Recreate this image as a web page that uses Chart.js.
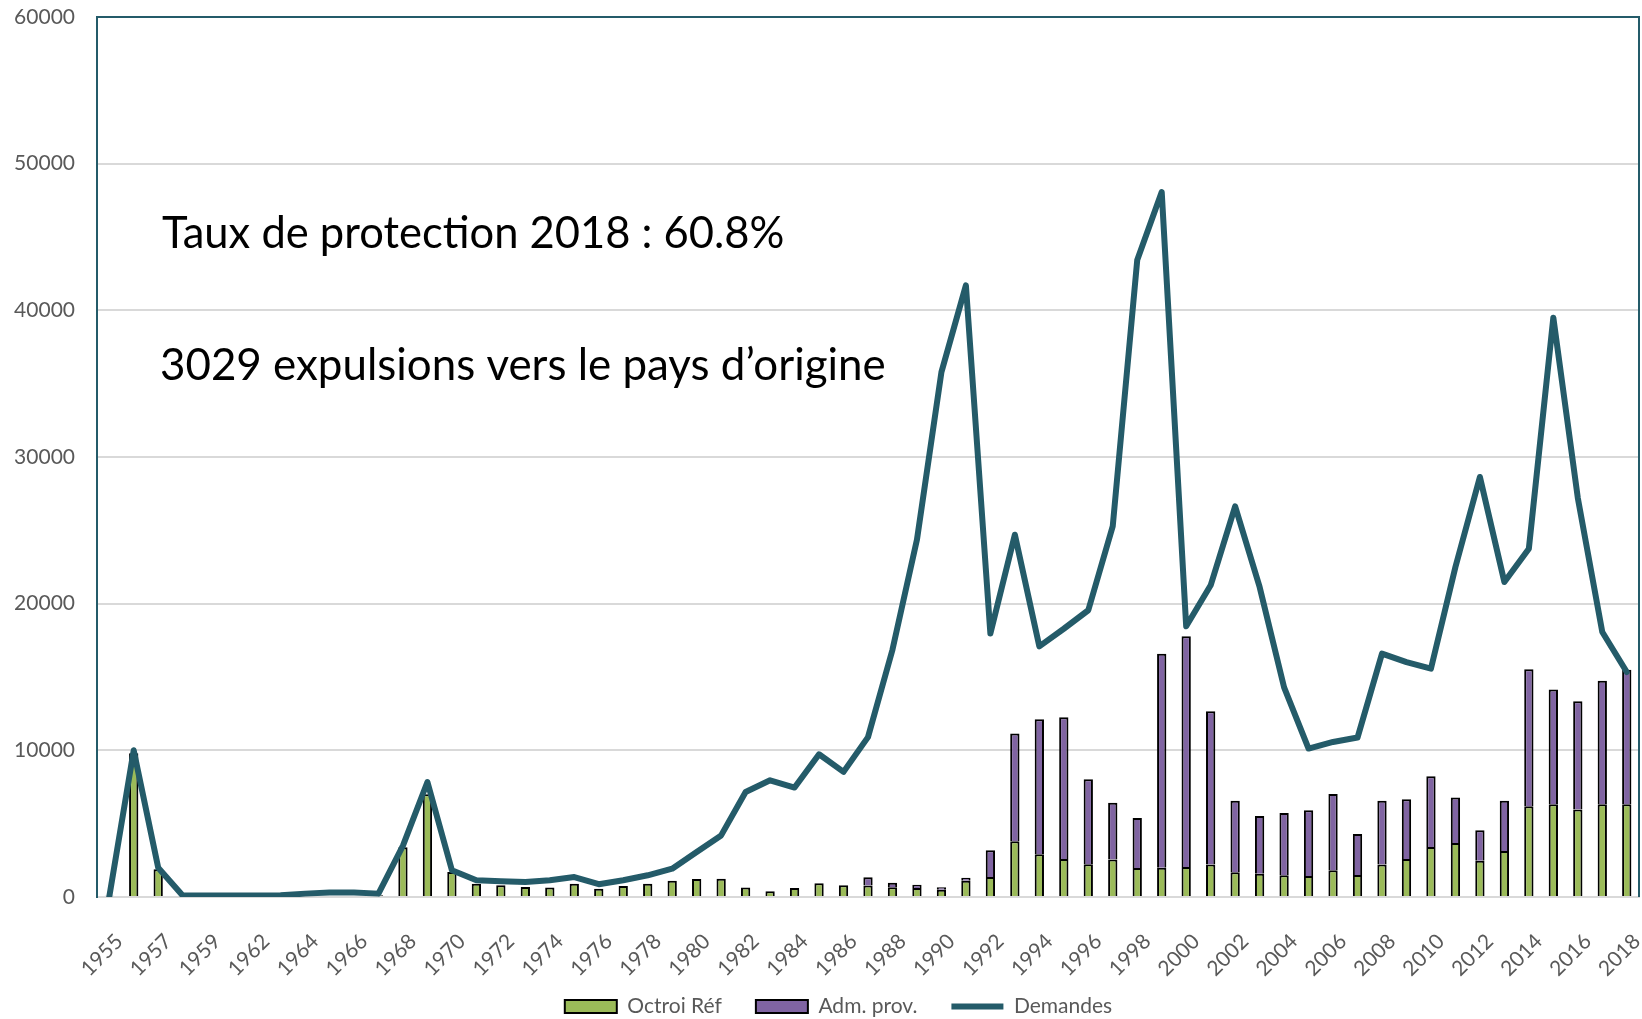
<!DOCTYPE html>
<html lang="fr">
<head>
  <meta charset="UTF-8" />
  <title>Demandes d'asile et protections</title>
  <script src="https://cdn.jsdelivr.net/npm/chart.js"></script>
  <style>
    body {
      margin: 0;
      background: #fff;
    }

    #chartContainer {
      width: 1642px;
      height: 1019px;
    }
  </style>
</head>
<body>

  <div id="chartContainer">
    <canvas id="asileChart"></canvas>
  </div>

  <script>
    const years = ['1955', '1956', '1957', '1958', '1959', '1960',
      '1962', '1963', '1964', '1965', '1966', '1967', '1968', '1969', '1970', '1971',
      '1972', '1973', '1974', '1975', '1976', '1977', '1978', '1979', '1980', '1981',
      '1982', '1983', '1984', '1985', '1986', '1987', '1988', '1989', '1990', '1991',
      '1992', '1993', '1994', '1995', '1996', '1997', '1998', '1999', '2000', '2001',
      '2002', '2003', '2004', '2005', '2006', '2007', '2008', '2009', '2010', '2011',
      '2012', '2013', '2014', '2015', '2016', '2017', '2018'];

    const octroiRef = [80, 9800, 1900, 0, 0, 0,
      0, 0, 0, 0, 0, 120, 3400, 7000, 1700, 900,
      800, 680, 640, 910, 570, 750, 910, 1110, 1230, 1250,
      640, 390, 610, 930, 800, 780, 660, 610, 500, 1100,
      1370, 3800, 2910, 2590, 2230, 2550, 1980, 2000, 2050, 2210,
      1680, 1590, 1480, 1430, 1820, 1500, 2210, 2590, 3410, 3680,
      2480, 3140, 6180, 6320, 5960, 6320, 6320];

    const admProv = [0, 0, 0, 0, 0, 0,
      0, 0, 0, 0, 0, 0, 0, 0, 0, 0,
      0, 0, 0, 0, 0, 0, 0, 0, 0, 0,
      0, 0, 0, 0, 0, 560, 320, 230, 160, 210,
      1810, 7340, 9210, 9660, 5790, 3880, 3410, 14590, 15720, 10450,
      4890, 3930, 4250, 4480, 5210, 2800, 4360, 4070, 4820, 3100,
      2070, 3430, 9340, 7820, 7380, 8430, 9180];

    const demandes = [0, 10000, 2000, 100, 100, 100,
      100, 120, 230, 300, 300, 230, 3500, 7840, 1820, 1140,
      1070, 1020, 1140, 1360, 870, 1140, 1480, 1930, 3070, 4200,
      7160, 7960, 7460, 9730, 8530, 10900, 16860, 24360, 35790, 41700,
      17960, 24700, 17090, 18290, 19550, 25290, 43430, 48070, 18460, 21250,
      26640, 21140, 14290, 10120, 10570, 10870, 16590, 16020, 15570, 22500,
      28640, 21480, 23750, 39500, 27210, 18070, 15340];

    const yTicks = [0, 10000, 20000, 30000, 40000, 50000, 60000];

    const notes = [
      { text: 'Taux de protection 2018 : 60.8%', x: 162, y: 248, width: 623 },
      { text: '3029 expulsions vers le pays d\u2019origine', x: 160, y: 380, width: 726 }
    ];

    const TEAL = '#245b69';
    const GREEN = '#9bbb59';
    const PURPLE = '#8064a2';
    const GRAY_TEXT = '#595959';
    const FONT = 'Lato';

    // frame on top/right of the plot + the two text boxes
    const extras = {
      id: 'extras',
      afterLayout(chart) {
        // legend sits a bit right of the canvas centre in the original
        chart.legend.left += 38;
      },
      afterDraw(chart) {
        const { ctx, chartArea } = chart;
        ctx.save();
        ctx.strokeStyle = TEAL;
        ctx.lineWidth = 2;
        ctx.beginPath();
        ctx.moveTo(chartArea.left, chartArea.top);
        ctx.lineTo(chartArea.right, chartArea.top);
        ctx.lineTo(chartArea.right, chartArea.bottom);
        ctx.stroke();

        ctx.fillStyle = '#000';
        ctx.textBaseline = 'alphabetic';
        notes.forEach(n => {
          ctx.font = '100px ' + FONT;
          const w = ctx.measureText(n.text).width;
          const size = 100 * n.width / w;
          ctx.font = size.toFixed(1) + 'px ' + FONT;
          ctx.fillText(n.text, n.x, n.y);
        });
        ctx.restore();
      }
    };

    const ctx = document.getElementById('asileChart').getContext('2d');
    new Chart(ctx, {
      type: 'bar',
      data: {
        labels: years,
        datasets: [
          {
            label: 'Octroi Réf',
            data: octroiRef,
            backgroundColor: GREEN,
            borderColor: '#000',
            borderWidth: 2,
            stack: 'bars',
            pointStyle: 'rect',
            barPercentage: 0.38,
            categoryPercentage: 1
          },
          {
            label: 'Adm. prov.',
            data: admProv,
            backgroundColor: PURPLE,
            borderColor: '#000',
            borderWidth: 2,
            stack: 'bars',
            pointStyle: 'rect',
            barPercentage: 0.38,
            categoryPercentage: 1
          },
          {
            type: 'line',
            label: 'Demandes',
            data: demandes,
            borderColor: TEAL,
            backgroundColor: TEAL,
            borderWidth: 6,
            borderCapStyle: 'round',
            borderJoinStyle: 'round',
            pointRadius: 0,
            pointStyle: 'line',
            tension: 0,
            stack: 'line',
            order: -1
          }
        ]
      },
      options: {
        responsive: true,
        maintainAspectRatio: false,
        animation: false,
        layout: { padding: { top: 17, right: 3, left: 0, bottom: 0 } },
        plugins: {
          tooltip: { enabled: false },
          legend: {
            position: 'bottom',
            maxHeight: 57,
            labels: {
              usePointStyle: true,
              pointStyleWidth: 52,
              boxHeight: 13,
              padding: 34,
              color: GRAY_TEXT,
              font: { family: FONT, size: 21 },
              sort: (a, b) => a.datasetIndex - b.datasetIndex
            }
          }
        },
        scales: {
          x: {
            stacked: true,
            afterFit: s => {
              s.height = 65;
              s.paddingLeft = 0;
              s.paddingRight = 0;
              // let the rotated year labels run past the axis box
              s._computeLabelArea = () => ({ left: 0, top: s.top, right: s.chart.width, bottom: s.chart.height });
            },
            grid: { display: false, drawTicks: false },
            border: { color: '#d9d9d9', width: 2 },
            ticks: {
              autoSkip: false,
              minRotation: 45,
              maxRotation: 45,
              padding: 32,
              labelOffset: 10,
              color: GRAY_TEXT,
              font: { family: FONT, size: 21 },
              callback: (v, i) => (i % 2 === 0 ? years[i] : '')
            }
          },
          y: {
            stacked: true,
            min: 0,
            max: 60000,
            afterFit: s => { s.width = 97; s.paddingTop = 0; s.paddingBottom = 0; },
            afterBuildTicks: s => { s.ticks = yTicks.map(v => ({ value: v })); },
            grid: { color: '#d9d9d9', lineWidth: 2, drawTicks: false },
            border: { color: TEAL, width: 2 },
            ticks: {
              padding: 22,
              color: GRAY_TEXT,
              font: { family: FONT, size: 21 },
              callback: v => String(v)
            }
          }
        }
      },
      plugins: [extras]
    });
  </script>

</body>
</html>
